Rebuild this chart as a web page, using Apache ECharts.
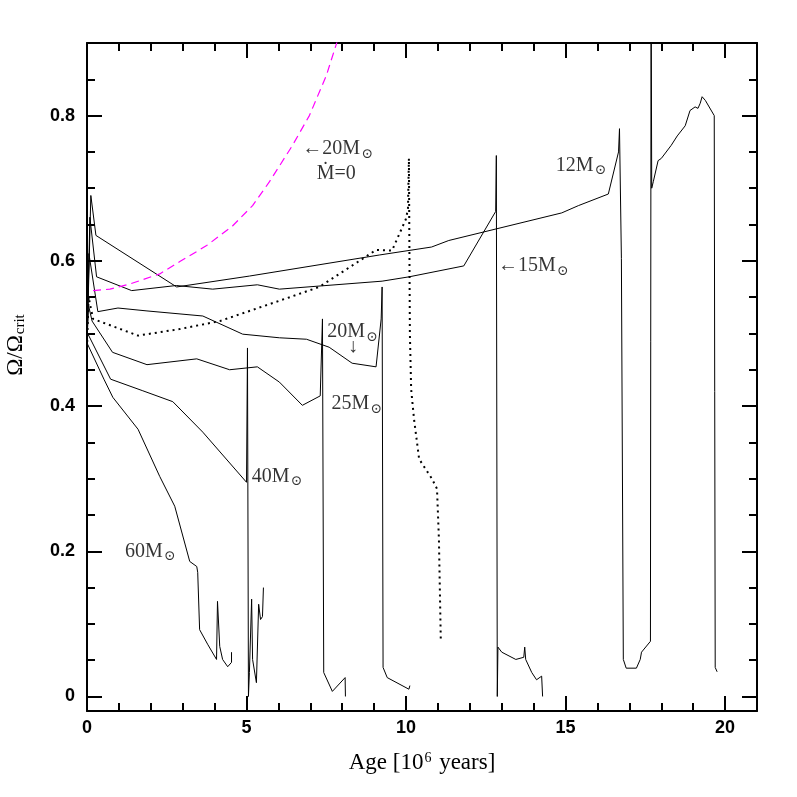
<!DOCTYPE html>
<html>
<head>
<meta charset="utf-8">
<script src="https://cdn.jsdelivr.net/npm/echarts@6/dist/echarts.min.js"></script>
<style>
html, body { margin: 0; padding: 0; background: #fff; }
#container { width: 797px; height: 797px; }
</style>
</head>
<body>
<div id="container"></div>
<script>
// tracks: [age (Myr), Omega/Omega_crit]
var m12 = [[0,0.48],[0.12,0.69],[0.28,0.635],[2.81,0.564],[5.09,0.579],[9.16,0.608],[10.8,0.619],[11.34,0.628],[14.88,0.666],[15.4,0.676],[16.34,0.692],[16.66,0.75],[16.69,0.782],[16.75,0.603],[16.81,0.051],[16.9,0.039],[17.22,0.039],[17.34,0.051],[17.38,0.061],[17.66,0.076],[17.68,1.0],[17.7,0.70],[17.75,0.709],[17.9,0.738],[18.0,0.741],[18.31,0.759],[18.5,0.772],[18.75,0.786],[18.9,0.807],[19.06,0.812],[19.15,0.81],[19.22,0.817],[19.28,0.826],[19.38,0.821],[19.66,0.80],[19.69,0.04],[19.75,0.034]];
var m15 = [[0,0.48],[0.09,0.66],[0.3,0.578],[1.4,0.559],[2.8,0.566],[3.94,0.561],[5.34,0.567],[6.03,0.561],[9.25,0.572],[10.1,0.578],[11.81,0.593],[12.81,0.668],[12.83,0.745],[12.86,0.0],[12.88,0.068],[13.0,0.061],[13.44,0.051],[13.69,0.054],[13.72,0.068],[13.75,0.051],[13.94,0.033],[14.09,0.023],[14.25,0.028],[14.28,0.0]];
var m20 = [[0,0.48],[0.06,0.61],[0.34,0.53],[0.97,0.535],[1.88,0.531],[3.63,0.524],[4.88,0.499],[6.03,0.494],[6.88,0.492],[7.59,0.481],[8.31,0.459],[9.06,0.454],[9.22,0.52],[9.25,0.564],[9.28,0.04],[9.41,0.026],[10.09,0.01],[10.12,0.015]];
var m25 = [[0,0.48],[0.04,0.54],[0.16,0.517],[0.8,0.474],[1.88,0.457],[3.44,0.465],[4.47,0.45],[5.34,0.454],[6.03,0.433],[6.75,0.401],[7.31,0.414],[7.38,0.52],[7.42,0.033],[7.69,0.007],[8.09,0.026],[8.1,0.0]];
var m40 = [[0,0.48],[0.02,0.5],[0.74,0.437],[1.75,0.421],[2.69,0.406],[3.63,0.364],[5.0,0.295],[5.03,0.48],[5.06,0.0],[5.09,0.033],[5.16,0.134],[5.19,0.051],[5.31,0.019],[5.38,0.127],[5.44,0.106],[5.5,0.11],[5.53,0.15]];
var m60 = [[0,0.47],[0.02,0.485],[0.53,0.437],[0.81,0.412],[1.6,0.368],[2.28,0.303],[2.75,0.262],[3.22,0.186],[3.44,0.179],[3.47,0.171],[3.53,0.092],[3.78,0.072],[4.06,0.051],[4.09,0.131],[4.16,0.069],[4.25,0.051],[4.41,0.041],[4.53,0.047],[4.53,0.061]];
var m20dot = [[0,0.48],[0.05,0.55],[0.19,0.52],[1.6,0.497],[2.9,0.506],[4.16,0.517],[6.03,0.545],[7.28,0.564],[8.75,0.606],[9.06,0.615],[9.56,0.614],[10.0,0.658],[10.06,0.672],[10.09,0.741],[10.12,0.5],[10.16,0.423],[10.25,0.382],[10.41,0.327],[10.81,0.30],[10.97,0.286],[11.03,0.217],[11.09,0.075]];
var m20noloss = [[0.19,0.559],[0.72,0.561],[1.34,0.568],[2.28,0.582],[2.91,0.599],[3.75,0.621],[4.56,0.648],[5.19,0.676],[5.72,0.709],[6.44,0.759],[6.97,0.80],[7.5,0.855],[7.84,0.902],[8.1,0.95]];

// annotations
var noteX = [6.75, 7.81, 14.69, 12.88, 7.53, 8.34, 7.66, 5.16, 1.19];
var noteY = [0.754, 0.72, 0.731, 0.593, 0.502, 0.481, 0.403, 0.303, 0.2];
var noteText = ['←20M{s|⊙}', 'Ṁ=0', '12M{s|⊙}', '←15M{s|⊙}', '20M{s|⊙}', '↓', '25M{s|⊙}', '40M{s|⊙}', '60M{s|⊙}'];
var noteCenter = [false, true, false, false, false, true, false, false, false];

var xMajor = [0, 5, 10, 15, 20];
var xMinor = [1,2,3,4,6,7,8,9,11,12,13,14,16,17,18,19];
var yMajor = [0, 0.2, 0.4, 0.6, 0.8];
var yMinor = [0.05,0.1,0.15,0.25,0.3,0.35,0.45,0.5,0.55,0.65,0.7,0.75,0.85];

var serif = "'Liberation Serif', 'DejaVu Serif', serif";

function xAx(pos, values, len, labels, line) {
  return {
    type: "value", min: 0, max: 21, position: pos,
    axisLine: { show: line, onZero: false, lineStyle: { color: "#000", width: 2 } },
    axisTick: { inside: true, length: len, customValues: values, lineStyle: { color: "#000", width: 2 } },
    axisLabel: { show: labels, customValues: values, margin: 8, color: "#000",
      fontFamily: "Liberation Sans", fontWeight: "bold", fontSize: 18 },
    splitLine: { show: false }
  };
}
function yAx(pos, values, len, labels, line) {
  return {
    type: "value", min: -0.02, max: 0.9, position: pos,
    axisLine: { show: line, onZero: false, lineStyle: { color: "#000", width: 2 } },
    axisTick: { inside: true, length: len, customValues: values, lineStyle: { color: "#000", width: 2 } },
    axisLabel: { show: labels, customValues: values, margin: 12, color: "#000",
      fontFamily: "Liberation Sans", fontWeight: "bold", fontSize: 18 },
    splitLine: { show: false }
  };
}

function track(data, style) {
  return {
    type: "line", data: data, symbol: "none", clip: true,
    lineStyle: Object.assign({ color: "#000", width: 1 }, style),
    animation: false, silent: true
  };
}

var notes = noteX.map(function (x, i) {
  return {
    value: [x, noteY[i]],
    label: {
      formatter: noteText[i],
      position: noteCenter[i] ? "inside" : "right",
      align: noteCenter[i] ? "center" : "left"
    }
  };
});

var chartDom = document.getElementById("container");
var myChart = echarts.init(chartDom);
var option = {
  backgroundColor: "#fff",
  animation: false,
  grid: { left: 87, right: 40, top: 43, bottom: 86 },
  xAxis: [
    Object.assign(xAx("bottom", xMajor, 15, true, true), {
      name: "Age [10{sup|6} years]", nameLocation: "middle", nameGap: 40,
      nameTextStyle: { fontFamily: serif, fontSize: 23, color: "#000",
        rich: { sup: { fontFamily: serif, fontSize: 14, verticalAlign: "top", padding: [0, 2, 10, 1] } } }
    }),
    xAx("bottom", xMinor, 8, false, false),
    xAx("top", xMajor, 15, false, true),
    xAx("top", xMinor, 8, false, false)
  ],
  yAxis: [
    yAx("left", yMajor, 15, true, true),
    yAx("left", yMinor, 8, false, false),
    yAx("right", yMajor, 15, false, true),
    yAx("right", yMinor, 8, false, false)
  ],
  graphic: [{
    type: "text", x: 16, y: 345, rotation: Math.PI / 2,
    style: {
      text: "Ω/Ω{sub|crit}", fill: "#000", font: "23px " + serif,
      align: "center", verticalAlign: "middle",
      rich: { sub: { fontSize: 15, fontFamily: serif, verticalAlign: "bottom", padding: [9, 0, 0, 1] } }
    }
  }],
  series: [
    track(m60),
    track(m40),
    track(m25),
    track(m20),
    track(m15),
    track(m12),
    track(m20dot, { width: 2, type: [2, 4] }),
    track(m20noloss, { color: "#ff00ff", width: 1.2, type: [8, 5] }),
    {
      type: "scatter", data: notes, symbolSize: 0, silent: true, animation: false,
      label: {
        show: true, distance: 0, color: "#000", fontFamily: serif, fontSize: 20,
        verticalAlign: "middle",
        rich: { s: { fontFamily: "'DejaVu Serif', serif", fontSize: 14, color: "#000", verticalAlign: "bottom", padding: [10, 0, 0, 1] } }
      }
    }
  ]
};
option && myChart.setOption(option);
</script>
</body>
</html>
